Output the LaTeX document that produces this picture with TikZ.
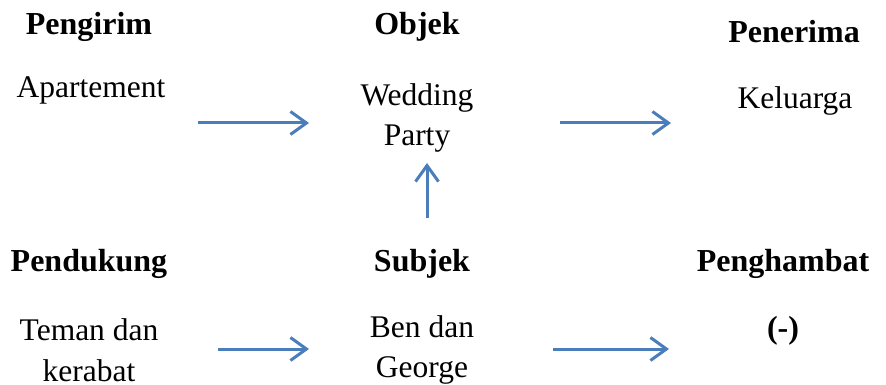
\documentclass[tikz,border=0pt]{standalone}
\usepackage{fontspec}
\setmainfont{Liberation Serif}
\usetikzlibrary{arrows.meta}
\definecolor{arrowblue}{HTML}{4A7EBB}
\tikzset{
  txt/.style={font=\fontsize{31.5}{40.5}\selectfont, inner sep=0pt, align=center},
  hdr/.style={font=\fontsize{32}{40}\selectfont\bfseries, inner sep=0pt, align=center},
  flow/.style={draw=arrowblue, line width=3pt, -{Straight Barb[length=16pt,width=23pt,line width=3pt]}}
}
\begin{document}
\begin{tikzpicture}[x=1pt,y=-1pt]
\useasboundingbox (0,0) rectangle (886,385);
% headers
\node[hdr] (pengirim) at (89,27) {Pengirim};
\node[hdr] (objek) at (417,27) {Objek};
\node[hdr] (penerima) at (794,32) {Penerima};
\node[hdr] (pendukung) at (89,264) {Pendukung};
\node[hdr] (subjek) at (422,264) {Subjek};
\node[hdr] (penghambat) at (783,264) {Penghambat};
% contents
\node[txt] (apartement) at (91,90) {Apartement};
\node[txt] (wedding) at (417,118) {Wedding\\Party};
\node[txt] (keluarga) at (795,101) {Keluarga};
\node[txt] (teman) at (89,350) {Teman dan\\kerabat};
\node[txt] (ben) at (422,350) {Ben dan\\George};
\node[hdr] (minus) at (783,331) {(-)};
% arrow endpoints
\coordinate (a1s) at (198,123); \coordinate (a1e) at (309,123);
\coordinate (a2s) at (560,123); \coordinate (a2e) at (671,123);
\coordinate (a3s) at (218,349); \coordinate (a3e) at (309,349);
\coordinate (a4s) at (553,349); \coordinate (a4e) at (669,349);
\coordinate (a5s) at (427,218); \coordinate (a5e) at (427,163);
\draw[flow] (a1s) -- (a1e);
\draw[flow] (a2s) -- (a2e);
\draw[flow] (a3s) -- (a3e);
\draw[flow] (a4s) -- (a4e);
\draw[flow] (a5s) -- (a5e);
\end{tikzpicture}
\end{document}
